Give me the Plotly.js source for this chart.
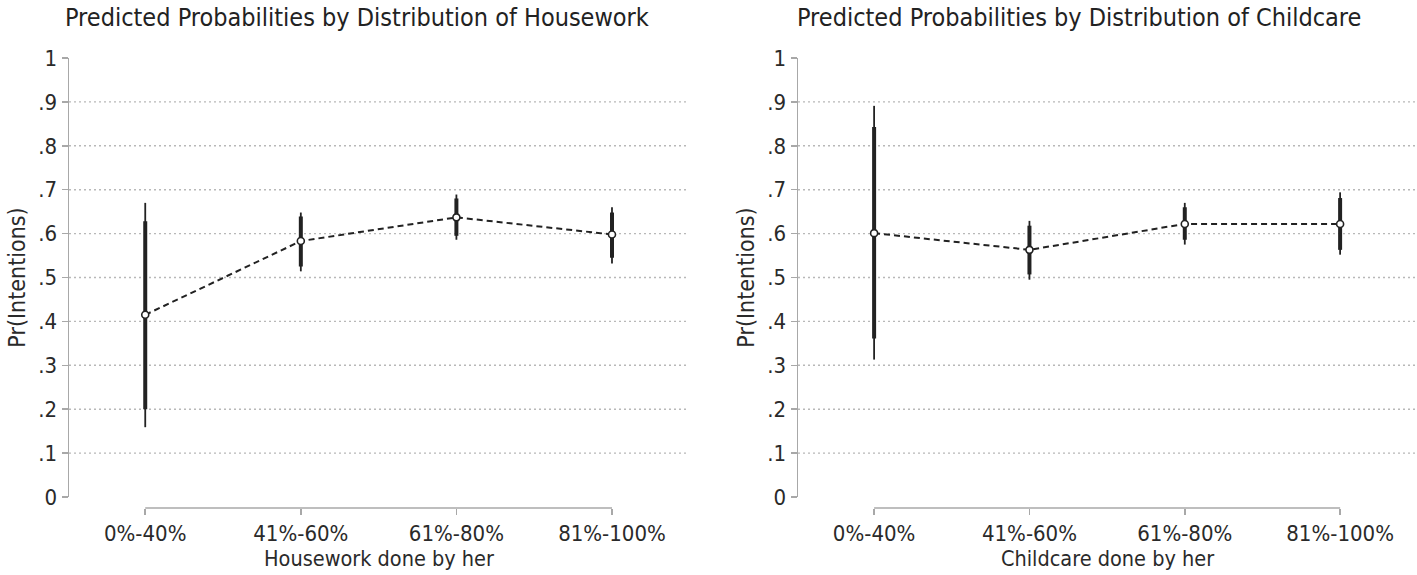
<!DOCTYPE html>
<html>
<head>
<meta charset="utf-8">
<script src="https://cdn.plot.ly/plotly-3.0.1.min.js"></script>
<style>html,body{margin:0;padding:0;background:#fff;}#chart{width:1417px;height:575px;}</style>
</head>
<body>
<div id="chart"></div>
<script>
// ---- data ----
var categories = ["0%-40%", "41%-60%", "61%-80%", "81%-100%"];

var houseworkMean  = [0.415, 0.583, 0.637, 0.598];
var houseworkLo90  = [0.200, 0.525, 0.595, 0.545];
var houseworkHi90  = [0.628, 0.639, 0.680, 0.648];
var houseworkLo95  = [0.159, 0.514, 0.586, 0.532];
var houseworkHi95  = [0.670, 0.648, 0.689, 0.660];

var childcareMean  = [0.601, 0.563, 0.622, 0.622];
var childcareLo90  = [0.361, 0.507, 0.586, 0.563];
var childcareHi90  = [0.843, 0.618, 0.660, 0.681];
var childcareLo95  = [0.313, 0.495, 0.575, 0.552];
var childcareHi95  = [0.891, 0.629, 0.670, 0.694];

var yTickVals  = [0, 0.1, 0.2, 0.3, 0.4, 0.5, 0.6, 0.7, 0.8, 0.9, 1];
var yTickText  = ["0", ".1", ".2", ".3", ".4", ".5", ".6", ".7", ".8", ".9", "1"];
var gridVals   = [0.1, 0.2, 0.3, 0.4, 0.5, 0.6, 0.7, 0.8, 0.9];

var titles  = ["Predicted Probabilities by Distribution of Housework",
               "Predicted Probabilities by Distribution of Childcare"];
var xTitles = ["Housework done by her", "Childcare done by her"];
var yTitle  = "Pr(Intentions)";

// ---- styling ----
var FONT = '"Liberation Sans Narrow", "Arial Narrow", "DejaVu Sans Condensed", sans-serif';
var INK = '#222222';
var AXIS = '#a8a8a8';
var GRID = '#b8b8b8';
var TXT = '#2a2a2a';

function diff(a, b) { return a.map(function (v, i) { return v - b[i]; }); }

function panelTraces(mean, lo90, hi90, lo95, hi95, xa, ya) {
  var invisible = {size: 1, color: 'rgba(0,0,0,0)'};
  return [
    {type: 'scatter', mode: 'markers', x: categories, y: mean, xaxis: xa, yaxis: ya,
     marker: invisible, hoverinfo: 'skip',
     error_y: {type: 'data', symmetric: false, array: diff(hi95, mean), arrayminus: diff(mean, lo95),
               width: 0, thickness: 1.8, color: INK}},
    {type: 'scatter', mode: 'markers', x: categories, y: mean, xaxis: xa, yaxis: ya,
     marker: invisible, hoverinfo: 'skip',
     error_y: {type: 'data', symmetric: false, array: diff(hi90, mean), arrayminus: diff(mean, lo90),
               width: 0, thickness: 4, color: INK}},
    {type: 'scatter', mode: 'lines+markers', x: categories, y: mean, xaxis: xa, yaxis: ya,
     line: {color: INK, width: 2, dash: '6px,4px'},
     marker: {symbol: 'circle', size: 7, color: '#ffffff', line: {color: INK, width: 1.6}}}
  ];
}

var data = [].concat(
  panelTraces(houseworkMean, houseworkLo90, houseworkHi90, houseworkLo95, houseworkHi95, 'x', 'y'),
  panelTraces(childcareMean, childcareLo90, childcareHi90, childcareLo95, childcareHi95, 'x2', 'y2')
);

var W = 1417, H = 575;
var yDomain = [(H - 497) / H, (H - 58) / H];
var xAxisPos = (H - 508) / H;

function xAxis(domain, title) {
  return {
    domain: domain, range: [-0.49, 3.495], type: 'category',
    anchor: 'free', position: xAxisPos,
    showline: false, showgrid: false, zeroline: false,
    ticks: 'outside', ticklen: 6, tickwidth: 1.5, tickcolor: AXIS,
    tickfont: {family: FONT, size: 22, color: TXT},
    title: {text: title, font: {family: FONT, size: 21.5, color: TXT}, standoff: 5},
    fixedrange: true
  };
}
function yAxis(anchor) {
  return {
    domain: yDomain, range: [0, 1], anchor: anchor,
    tickmode: 'array', tickvals: yTickVals, ticktext: yTickText,
    showline: true, linecolor: AXIS, linewidth: 1.5,
    showgrid: false, zeroline: false,
    ticks: 'outside', ticklen: 6, tickwidth: 1.5, tickcolor: AXIS,
    tickfont: {family: FONT, size: 22, color: TXT},
    title: {text: yTitle, font: {family: FONT, size: 23, color: TXT}, standoff: 6},
    fixedrange: true
  };
}

var shapes = [];
[['x', 'y'], ['x2', 'y2']].forEach(function (p) {
  gridVals.forEach(function (v) {
    shapes.push({type: 'line', layer: 'below', xref: p[0] + ' domain', yref: p[1],
                 x0: 0, x1: 1, y0: v, y1: v,
                 line: {color: GRID, width: 1.4, dash: '2px,3px'}});
  });
  shapes.push({type: 'line', layer: 'above', xref: p[0], yref: 'paper',
               x0: categories[0], x1: categories[categories.length - 1],
               y0: xAxisPos, y1: xAxisPos,
               line: {color: AXIS, width: 1.5}});
});

var layout = {
  width: W, height: H,
  margin: {l: 0, r: 0, t: 0, b: 0},
  paper_bgcolor: '#ffffff', plot_bgcolor: '#ffffff',
  showlegend: false,
  font: {family: FONT, color: TXT},
  xaxis: xAxis([69 / W, 689 / W], xTitles[0]),
  yaxis: yAxis('x'),
  xaxis2: xAxis([798 / W, 1], xTitles[1]),
  yaxis2: yAxis('x2'),
  shapes: shapes,
  annotations: [
    {text: titles[0], xref: 'paper', yref: 'paper', x: 357 / W, y: 1 - 18 / H,
     xanchor: 'center', yanchor: 'middle', showarrow: false,
     font: {family: FONT, size: 25, color: '#222222'}},
    {text: titles[1], xref: 'paper', yref: 'paper', x: 1079 / W, y: 1 - 18 / H,
     xanchor: 'center', yanchor: 'middle', showarrow: false,
     font: {family: FONT, size: 25, color: '#222222'}}
  ]
};

Plotly.newPlot('chart', data, layout, {displayModeBar: false, staticPlot: true});
</script>
</body>
</html>
